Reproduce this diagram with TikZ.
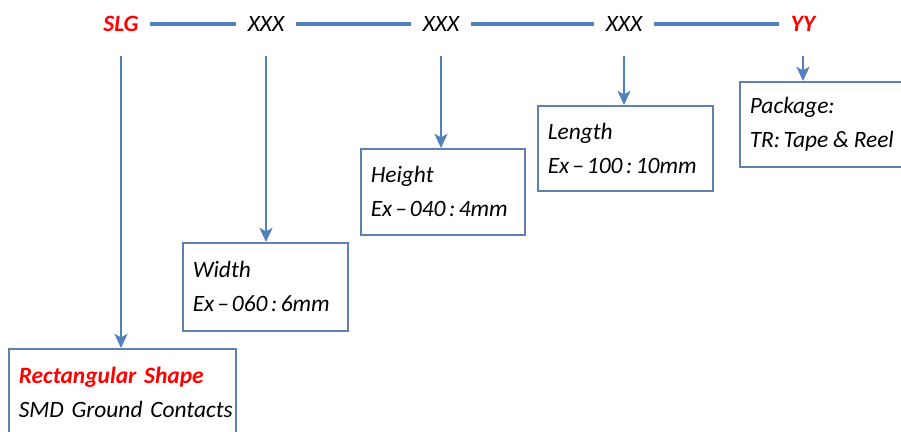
\documentclass[tikz,border=0pt]{standalone}
\usepackage{fontspec}
\setmainfont{Carlito}
\frenchspacing
\usetikzlibrary{arrows.meta}
\definecolor{lineblue}{HTML}{4F81BD}
\definecolor{boxblue}{HTML}{5F80B0}
\definecolor{codered}{HTML}{FF0000}
\newcommand\boxfont{\fontsize{20}{29}\selectfont\itshape}
\begin{document}
\begin{tikzpicture}[x=0.03cm,y=-0.03cm,
    label/.style={font=\fontsize{20}{29}\selectfont\itshape,inner xsep=10pt},
    keyword/.style={label,text=codered,font=\fontsize{20}{29}\selectfont\bfseries\itshape},
    link/.style={draw=lineblue,line width=3.4pt},
    pointer/.style={draw=lineblue,line width=2.4pt,shorten <=17pt,-{Stealth[length=12pt,width=11pt,inset=3pt]}},
    infobox/.style={draw=boxblue,line width=1.3pt,anchor=north west,align=left,
      inner xsep=0.3cm,inner ysep=0pt,font=\boxfont}]
  \clip (0,0) rectangle (901,432);
  % code letters
  \node[keyword] (slg) at (121,24) {SLG};
  \node[label] (w) at (266,24) {XXX};
  \node[label] (h) at (441,24) {XXX};
  \node[label] (l) at (624,24) {XXX};
  \node[keyword] (yy) at (803,24) {YY};
  \draw[link] (slg) -- (w);
  \draw[link] (w) -- (h);
  \draw[link] (h) -- (l);
  \draw[link] (l) -- (yy);
  % explanation boxes
  \node[infobox,text width=6.21cm,minimum height=2.64cm] (shape) at (8,348)
    {\mbox{\textcolor{codered}{\bfseries Rectangular Shape}}\\\mbox{SMD Ground Contacts}};
  \node[infobox,text width=4.35cm,minimum height=2.64cm] (width) at (182,242)
    {Width\\\mbox{Ex\kern2.5pt--\kern2.5pt060\kern3pt:\kern3pt6mm}};
  \node[infobox,text width=4.32cm,minimum height=2.58cm] (height) at (360,148)
    {Height\\\mbox{Ex\kern2.5pt--\kern2.5pt040\kern3pt:\kern3pt4mm}};
  \node[infobox,text width=4.65cm,minimum height=2.55cm] (length) at (537,105)
    {Length\\\mbox{Ex\kern2.5pt--\kern2.5pt100\kern3pt:\kern3pt10mm}};
  \node[infobox,text width=4.4cm,minimum height=2.55cm] (package) at (739,81)
    {Package:\\\mbox{TR:\kern3pt Tape\kern4pt\&\kern4pt Reel}};
  % pointers
  \draw[pointer] (slg.south) -- (slg.south |- shape.north);
  \draw[pointer] (w.south) -- (w.south |- width.north);
  \draw[pointer] (h.south) -- (h.south |- height.north);
  \draw[pointer] (l.south) -- (l.south |- length.north);
  \draw[pointer] (yy.south) -- (yy.south |- package.north);
\end{tikzpicture}
\end{document}
